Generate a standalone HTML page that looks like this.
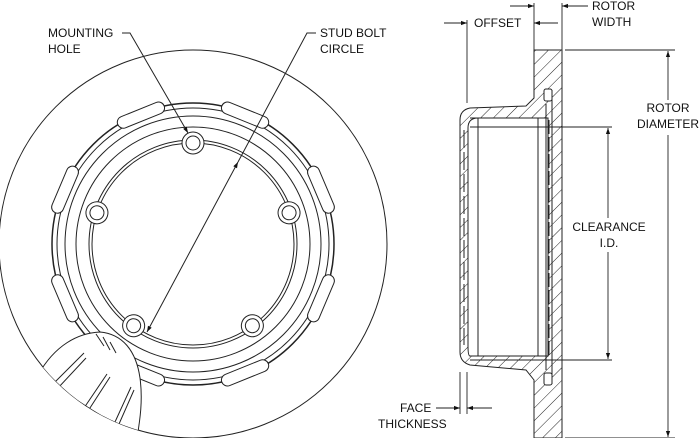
<!DOCTYPE html>
<html><head><meta charset="utf-8"><style>
html,body{margin:0;padding:0;background:#fff}
svg{display:block}
text{font-family:"Liberation Sans",sans-serif;font-size:12px;fill:#111}
</style></head><body>
<svg width="700" height="438" viewBox="0 0 700 438" xmlns="http://www.w3.org/2000/svg">
<defs>
<pattern id="h" patternUnits="userSpaceOnUse" width="9" height="9" patternTransform="rotate(45)">
<rect width="9" height="9" fill="#fff"/><line x1="0" y1="0" x2="0" y2="9" stroke="#222" stroke-width="1"/>
</pattern>
<marker id="a" viewBox="0 0 10 10" refX="10" refY="5" markerWidth="9" markerHeight="6" orient="auto-start-reverse" markerUnits="userSpaceOnUse"><path d="M0,1.5 L10,5 L0,8.5z" fill="#111"/></marker>
<clipPath id="c"><circle cx="193" cy="244" r="194"/></clipPath>
</defs>
<g fill="none" stroke="#222" stroke-width="1">
<circle cx="193" cy="244" r="194"/>
<circle cx="193" cy="244" r="141" stroke-width="1.5"/>
<circle cx="193" cy="244" r="136"/>
<circle cx="193" cy="244" r="128"/>
<circle cx="193" cy="244" r="117"/>
<circle cx="193" cy="244" r="104"/>
<circle cx="193" cy="244" r="101"/>
<g fill="#fff">
<rect x="-6" y="-25" width="12" height="50" rx="6" transform="translate(193,244) rotate(-22) translate(0,-139) rotate(90)"/>
<rect x="-6" y="-25" width="12" height="50" rx="6" transform="translate(193,244) rotate(22) translate(0,-139) rotate(90)"/>
<rect x="-6" y="-25" width="12" height="50" rx="6" transform="translate(193,244) rotate(-67) translate(0,-139) rotate(90)"/>
<rect x="-6" y="-25" width="12" height="50" rx="6" transform="translate(193,244) rotate(67) translate(0,-139) rotate(90)"/>
<rect x="-6" y="-25" width="12" height="50" rx="6" transform="translate(193,244) rotate(-113) translate(0,-139) rotate(90)"/>
<rect x="-6" y="-25" width="12" height="50" rx="6" transform="translate(193,244) rotate(113) translate(0,-139) rotate(90)"/>
<rect x="-6" y="-25" width="12" height="50" rx="6" transform="translate(193,244) rotate(-158) translate(0,-139) rotate(90)"/>
<rect x="-6" y="-25" width="12" height="50" rx="6" transform="translate(193,244) rotate(158) translate(0,-139) rotate(90)"/>
</g>
<g fill="#fff">
<g transform="translate(193,244)">
<g transform="rotate(0)"><circle cx="0" cy="-101" r="11"/><circle cx="0" cy="-101" r="7"/></g>
<g transform="rotate(72)"><circle cx="0" cy="-101" r="11"/><circle cx="0" cy="-101" r="7"/></g>
<g transform="rotate(144)"><circle cx="0" cy="-101" r="11"/><circle cx="0" cy="-101" r="7"/></g>
<g transform="rotate(216)"><circle cx="0" cy="-101" r="11"/><circle cx="0" cy="-101" r="7"/></g>
<g transform="rotate(288)"><circle cx="0" cy="-101" r="11"/><circle cx="0" cy="-101" r="7"/></g>
</g>
</g>
<g clip-path="url(#c)">
<path d="M38,375 C55,345 78,333 100,332 C122,334 136,350 140,378 C143,400 140,420 137,438" fill="#fff"/>
<path d="M55,382 L84,353 M58,388 L86,358" />
<path d="M84,408 L107,374 M88,411 L110,377" />
<path d="M115,422 L131,387 M119,424 L134,390" />
<path d="M96,334 L104,346 M103,337 L110,350 M110,342 L116,353"/>
</g>
<path d="M122,33 L130,33 L188,133" marker-end="url(#a)"/>
<path d="M316,33 L307,33 L238,162" />
<line x1="238" y1="162" x2="147" y2="332" marker-start="url(#a)" marker-end="url(#a)"/>

<path d="M534,50 L562,50 L562,438 L534,438 L534,380 L526,370 L470,365 Q460,362 460,352 L460,120 Q460,110 470,108 L526,106 L534,98 Z" fill="url(#h)"/>
<path d="M470,118 L548,118 L548,356 L470,356 Q468,356 468,346 L468,128 Q468,118 478,118 Z" fill="#fff"/>
<line x1="478" y1="118" x2="478" y2="356"/>
<line x1="538" y1="118" x2="538" y2="356"/>
<line x1="546" y1="104" x2="546" y2="370"/>
<line x1="552" y1="90" x2="552" y2="384"/>
<rect x="544" y="89" width="8" height="12" rx="2" fill="#fff"/>
<rect x="544" y="373" width="8" height="12" rx="2" fill="#fff"/>
<line x1="464" y1="130" x2="464" y2="345" stroke-dasharray="18,4"/>
<line x1="549" y1="120" x2="549" y2="355" stroke-dasharray="14,3"/>
<g stroke-width="0.9">
<line x1="467" y1="20" x2="467" y2="103"/>
<line x1="534" y1="3" x2="534" y2="50"/>
<line x1="562" y1="3" x2="562" y2="50"/>
<line x1="444" y1="23" x2="467" y2="23" marker-end="url(#a)"/>
<line x1="558" y1="23" x2="534" y2="23" marker-end="url(#a)"/>
<line x1="510" y1="6" x2="534" y2="6" marker-end="url(#a)"/>
<line x1="588" y1="6" x2="562" y2="6" marker-end="url(#a)"/>
<line x1="565" y1="50" x2="675" y2="50"/>
<line x1="565" y1="438" x2="675" y2="438"/>
<line x1="668" y1="100" x2="668" y2="51" marker-end="url(#a)"/>
<line x1="668" y1="135" x2="668" y2="437" marker-end="url(#a)"/>
<line x1="470" y1="127" x2="612" y2="127"/>
<line x1="470" y1="360" x2="612" y2="360"/>
<line x1="608" y1="218" x2="608" y2="128" marker-end="url(#a)"/>
<line x1="608" y1="252" x2="608" y2="359" marker-end="url(#a)"/>
<line x1="460" y1="372" x2="460" y2="414"/>
<line x1="467" y1="372" x2="467" y2="414"/>
<line x1="436" y1="408" x2="460" y2="408" marker-end="url(#a)"/>
<line x1="492" y1="408" x2="467" y2="408" marker-end="url(#a)"/>
</g>
</g>
<text x="48" y="37">MOUNTING</text>
<text x="48" y="53">HOLE</text>
<text x="320" y="37">STUD BOLT</text>
<text x="320" y="53">CIRCLE</text>
<text x="474" y="27">OFFSET</text>
<text x="592" y="10">ROTOR</text>
<text x="592" y="26">WIDTH</text>
<text x="668" y="112" text-anchor="middle">ROTOR</text>
<text x="668" y="128" text-anchor="middle">DIAMETER</text>
<text x="609" y="231" text-anchor="middle">CLEARANCE</text>
<text x="609" y="247" text-anchor="middle">I.D.</text>
<text x="400" y="412">FACE</text>
<text x="378" y="428">THICKNESS</text>
</svg>
</body></html>
